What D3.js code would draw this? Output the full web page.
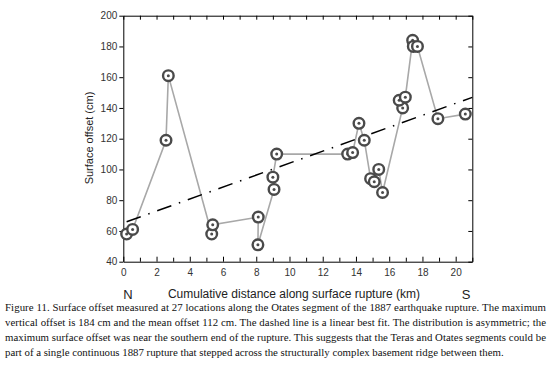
<!DOCTYPE html>
<html>
<head>
<meta charset="utf-8">
<script src="https://cdn.jsdelivr.net/npm/d3@7"></script>
<style>
  body { margin: 0; background: #fff; }
  svg { display: block; }
  .axis text { font-family: "Liberation Sans", Arial, sans-serif; font-size: 10px; fill: #333; }
  .axis path, .axis line { stroke: #000; }
  .caption { font-family: "Liberation Serif", "DejaVu Serif", serif; font-size: 10.8px; fill: #111; }
</style>
</head>
<body>
<svg width="552" height="366"></svg>
<script>
// measurement sites, in the order the grey line joins them
var distKm   = [0.2, 0.56, 2.57, 2.71, 5.32, 5.38, 8.12, 8.1, 9.07, 9.0, 9.23, 13.5, 13.8, 14.18, 14.5,
                14.88, 15.1, 15.37, 15.6, 16.81, 16.6, 16.97, 17.41, 17.45, 17.7, 18.93, 20.58];
var offsetCm = [58, 61, 119, 161, 58, 64, 69, 51, 87, 95, 110, 110, 111, 130, 119,
                94, 92, 100, 85, 140, 145, 147, 184, 180, 180, 133, 136];

// linear best fit (dash-dot line)
var fitStart = 0.2, fitEnd = 21;
var fitIntercept = 65.2, fitSlope = 3.89;

var xTicks = [0, 2, 4, 6, 8, 10, 12, 14, 16, 18, 20];
var yTicks = [40, 60, 80, 100, 120, 140, 160, 180, 200];

var caption = [
  "Figure 11. Surface offset measured at 27 locations along the Otates segment of the 1887 earthquake rupture. The maximum",
  "vertical offset is 184 cm and the mean offset 112 cm. The dashed line is a linear best fit. The distribution is asymmetric; the",
  "maximum surface offset was near the southern end of the rupture. This suggests that the Teras and Otates segments could be",
  "part of a single continuous 1887 rupture that stepped across the structurally complex basement ridge between them."
];

var margin = {left: 123.3, top: 15.7, right: 79.7, bottom: 104.3};
var width = 552 - margin.left - margin.right;
var height = 366 - margin.top - margin.bottom;

var root = d3.select('svg');
var svg = root.append('g')
    .attr('transform', 'translate(' + margin.left + ',' + margin.top + ')');

var x = d3.scaleLinear().domain([0, 21]).range([0, width]);
var y = d3.scaleLinear().domain([40, 200]).range([height, 0]);

var data = distKm.map(function(d, i){
    return {km: d, cm: offsetCm[i]};
});

// axes
var oneKm = d3.range(0, 22, 1);

svg.append('g')
    .attr('class', 'axis')
    .attr('transform', 'translate(0,' + height + ')')
    .call(d3.axisBottom(x).tickValues(oneKm).tickSizeInner(-4).tickSizeOuter(0)
        .tickFormat(function(d){ return xTicks.indexOf(d) >= 0 ? d : ''; }))
    .call(function(g){
        g.selectAll('.tick line').attr('y2', function(d){ return d % 2 === 0 ? -5 : -4; });
        g.selectAll('.tick text').attr('y', 7);
    });

svg.append('g')
    .attr('class', 'axis')
    .call(d3.axisTop(x).tickValues(oneKm).tickSizeInner(-4).tickSizeOuter(0).tickFormat(''));

svg.append('g')
    .attr('class', 'axis')
    .call(d3.axisLeft(y).tickValues(yTicks).tickSizeInner(4).tickSizeOuter(0).tickPadding(2));

svg.append('g')
    .attr('class', 'axis')
    .attr('transform', 'translate(' + width + ',0)')
    .call(d3.axisRight(y).tickValues(yTicks).tickSizeInner(-4).tickSizeOuter(0).tickFormat(''));

// connecting line
var line = d3.line()
    .x(function(d){ return x(d.km); })
    .y(function(d){ return y(d.cm); });

svg.append('path')
    .datum(data)
    .attr('d', line)
    .attr('fill', 'none')
    .attr('stroke', '#a8a8a8')
    .attr('stroke-width', 1.6);

// best fit
svg.append('line')
    .attr('x1', x(fitStart))
    .attr('y1', y(fitIntercept + fitSlope * fitStart))
    .attr('x2', x(fitEnd))
    .attr('y2', y(fitIntercept + fitSlope * fitEnd))
    .attr('stroke', '#000')
    .attr('stroke-width', 1.5)
    .attr('stroke-dasharray', '15,8,1.5,8');

// bullseye markers
var marks = svg.selectAll('.mark')
    .data(data)
    .enter()
    .append('g')
    .attr('class', 'mark')
    .attr('transform', function(d){ return 'translate(' + x(d.km) + ',' + y(d.cm) + ')'; });

marks.append('circle')
    .attr('r', 5.3)
    .attr('fill', '#fff')
    .attr('stroke', '#4a4a4a')
    .attr('stroke-width', 2.4);

marks.append('circle')
    .attr('r', 1.5)
    .attr('fill', '#4a4a4a');

// labels
root.append('text')
    .attr('transform', 'translate(93,138) rotate(-90)')
    .attr('text-anchor', 'middle')
    .style('font-family', '"Liberation Sans", Arial, sans-serif')
    .style('font-size', '11px')
    .attr('fill', '#222')
    .text('Surface offset (cm)');

root.append('text')
    .attr('x', 294)
    .attr('y', 298)
    .attr('text-anchor', 'middle')
    .style('font-family', '"Liberation Sans", Arial, sans-serif')
    .style('font-size', '12px')
    .attr('fill', '#222')
    .text('Cumulative distance along surface rupture (km)');

root.append('text')
    .attr('x', 128)
    .attr('y', 298.5)
    .attr('text-anchor', 'middle')
    .style('font-family', '"Liberation Sans", Arial, sans-serif')
    .style('font-size', '13px')
    .attr('fill', '#222')
    .text('N');

root.append('text')
    .attr('x', 466)
    .attr('y', 298.5)
    .attr('text-anchor', 'middle')
    .style('font-family', '"Liberation Sans", Arial, sans-serif')
    .style('font-size', '13px')
    .attr('fill', '#222')
    .text('S');

root.selectAll('.caption')
    .data(caption)
    .enter()
    .append('text')
    .attr('class', 'caption')
    .attr('x', 5)
    .attr('y', function(d, i){ return 311 + i * 15; })
    .attr('textLength', function(d, i){ return i < 3 ? 541 : null; })
    .attr('lengthAdjust', 'spacing')
    .text(function(d){ return d; });
</script>
</body>
</html>
